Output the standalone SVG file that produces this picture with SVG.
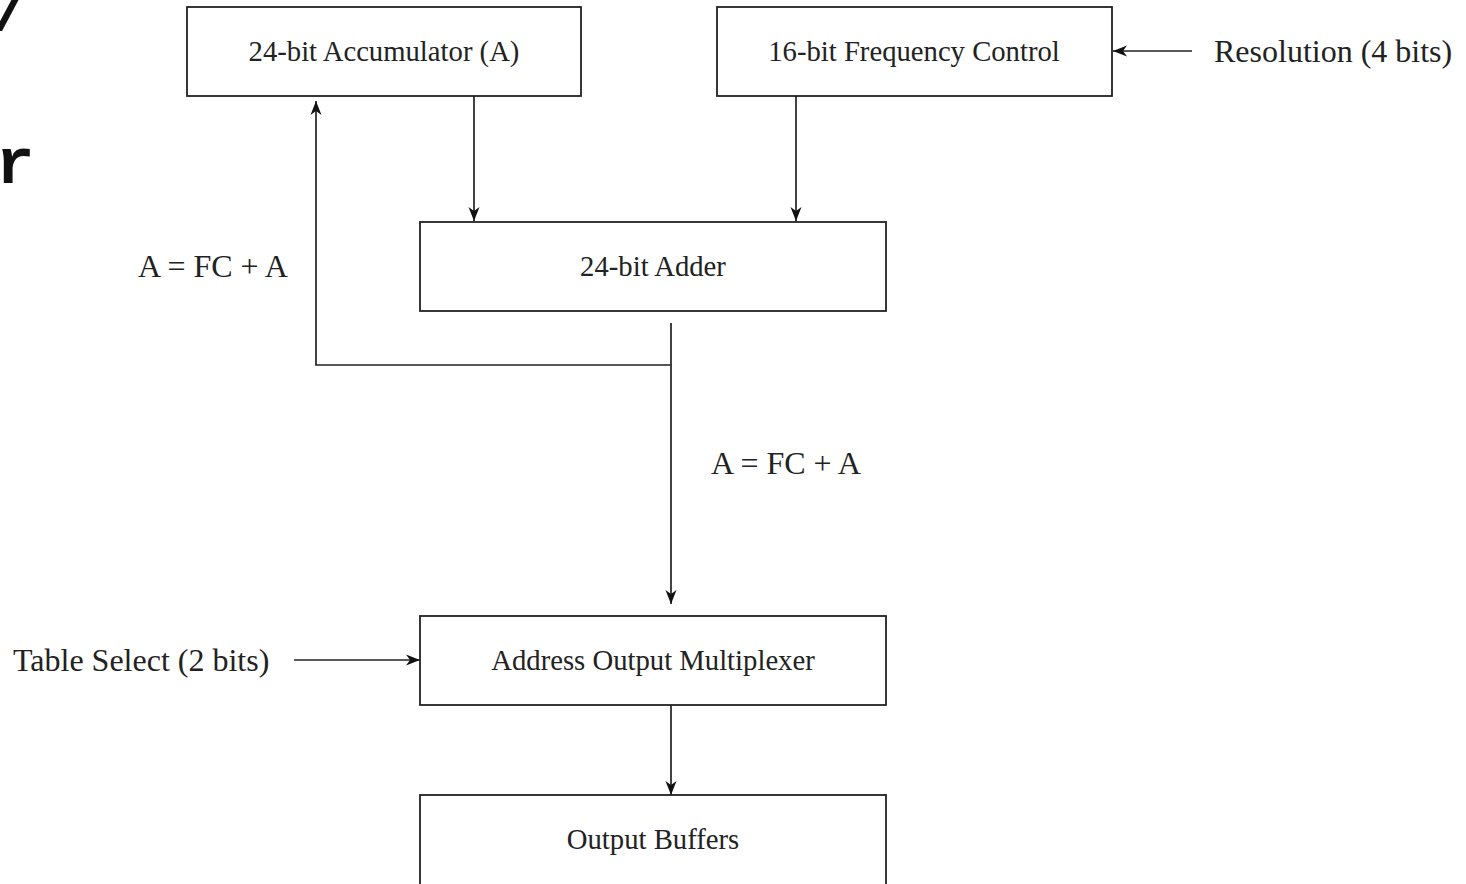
<svg xmlns="http://www.w3.org/2000/svg" width="1466" height="884" viewBox="0 0 1466 884">
<style>
.box{fill:#ffffff;stroke:#222222;stroke-width:1.8}
.t{font-family:"Liberation Serif","Times New Roman",serif;font-size:28.7px;fill:#222222}
.l{font-family:"Liberation Serif","Times New Roman",serif;font-size:32px;fill:#222222}
.c{text-anchor:middle}
.ln{fill:none;stroke:#222222;stroke-width:1.7}
.big{font-family:"Liberation Mono","Courier New",monospace;font-weight:bold;font-size:64px;fill:#111111}
</style>
<defs>
<marker id="ah" viewBox="0 0 14 12" refX="14" refY="6" markerWidth="14" markerHeight="12" markerUnits="userSpaceOnUse" orient="auto">
<path d="M0,0.5 L14,6 L0,11.5 L4,6 Z" fill="#111111"/>
</marker>
</defs>
<rect width="1466" height="884" fill="#ffffff"/>
<text class="big" x="-8" y="30">/</text>
<text class="big" x="-4" y="183">r</text>
<g id="connectors">
<line class="ln" x1="474" y1="96" x2="474" y2="221" marker-end="url(#ah)"/>
<line class="ln" x1="796" y1="96" x2="796" y2="221" marker-end="url(#ah)"/>
<line class="ln" x1="1192" y1="51" x2="1113" y2="51" marker-end="url(#ah)"/>
<line class="ln" x1="671" y1="323" x2="671" y2="604" marker-end="url(#ah)"/>
<polyline class="ln" points="671,365 316,365 316,101" marker-end="url(#ah)"/>
<line class="ln" x1="294" y1="660" x2="420" y2="660" marker-end="url(#ah)"/>
<line class="ln" x1="671" y1="705" x2="671" y2="795" marker-end="url(#ah)"/>
<text class="l" x="213" y="277" text-anchor="middle">A = FC + A</text>
<text class="l" x="786" y="474" text-anchor="middle">A = FC + A</text>
<text class="l" x="1214" y="62">Resolution (4 bits)</text>
<text class="l" x="13" y="671">Table Select (2 bits)</text>
</g>
<g id="acc">
<rect class="box" x="187" y="7" width="394" height="89"/>
<text class="t c" x="384" y="61">24-bit Accumulator (A)</text>
</g>
<g id="fc">
<rect class="box" x="717" y="7" width="395" height="89"/>
<text class="t c" x="914" y="61">16-bit Frequency Control</text>
</g>
<g id="adder">
<rect class="box" x="420" y="222" width="466" height="89"/>
<text class="t c" x="653" y="276">24-bit Adder</text>
</g>
<g id="mux">
<rect class="box" x="420" y="616" width="466" height="89"/>
<text class="t c" x="653" y="670">Address Output Multiplexer</text>
</g>
<g id="buf">
<rect class="box" x="420" y="795" width="466" height="95"/>
<text class="t c" x="653" y="849">Output Buffers</text>
</g>
</svg>
